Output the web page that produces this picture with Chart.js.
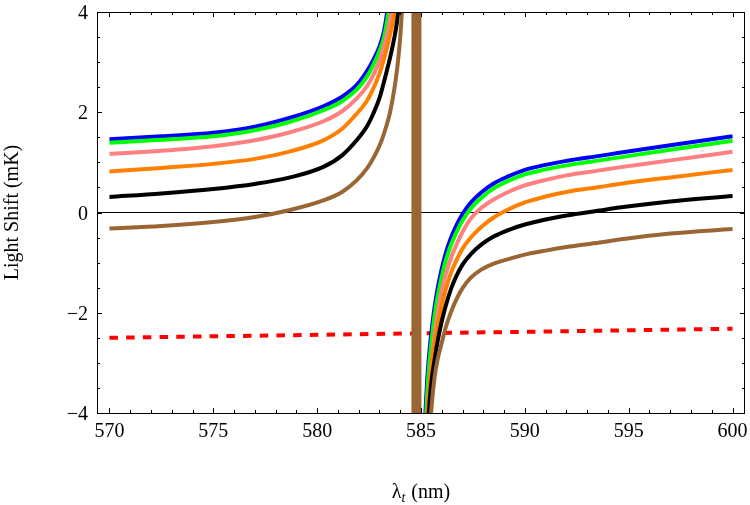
<!DOCTYPE html>
<html>
<head>
<meta charset="utf-8">
<script src="https://cdn.jsdelivr.net/npm/chart.js@4.4.0/dist/chart.umd.min.js"></script>
<style>
  html, body { margin: 0; padding: 0; background: #fff; }
  #wrap { width: 750px; height: 505px; position: relative; }
</style>
</head>
<body>
<div id="wrap"><canvas id="shiftChart"></canvas></div>
<script>
// wavelength grid (nm), left and right of the resonance
const lambdaLeft = [570, 572.5, 575, 577, 578.7, 580.3, 581.2, 581.9, 582.4, 582.7, 583.0, 583.2, 583.35, 583.5, 583.65, 583.8, 583.9, 584.0, 584.1, 584.2];
const lambdaRight = [585.2, 585.3, 585.4, 585.5, 585.65, 585.8, 586.0, 586.2, 586.45, 586.7, 587.0, 587.4, 587.9, 588.5, 589.2, 590, 591, 592, 593.6, 594.55, 597, 600];

// light shift (mK)
const blueLeft   = [1.46, 1.52, 1.59, 1.71, 1.89, 2.12, 2.31, 2.54, 2.82, 3.04, 3.31, 3.58, 3.94, 4.45, null, null, null, null, null, null];
const greenLeft  = [1.39, 1.45, 1.52, 1.64, 1.81, 2.04, 2.22, 2.45, 2.71, 2.94, 3.22, 3.47, 3.78, 4.2, null, null, null, null, null, null];
const pinkLeft   = [1.17, 1.23, 1.32, 1.44, 1.60, 1.82, 2.02, 2.27, 2.52, 2.74, 3.03, 3.30, 3.53, 3.82, 4.3, null, null, null, null, null];
const orangeLeft = [0.82, 0.89, 0.97, 1.07, 1.22, 1.44, 1.67, 1.97, 2.23, 2.47, 2.77, 3.04, 3.27, 3.53, 3.8, 4.15, null, null, null, null];
const blackLeft  = [0.31, 0.38, 0.47, 0.57, 0.70, 0.91, 1.14, 1.44, 1.72, 1.97, 2.28, 2.58, 2.82, 3.07, 3.35, 3.68, 3.98, 4.35, null, null];
const brownLeft  = [-0.32, -0.27, -0.19, -0.09, 0.05, 0.24, 0.41, 0.64, 0.88, 1.08, 1.33, 1.55, 1.75, 1.98, 2.3, 2.7, 3.05, 3.5, 4.15, 4.9];

const blueRight   = [-4.1, -3.33, -2.8, -2.4, -1.9, -1.52, -1.12, -0.8, -0.5, -0.26, -0.03, 0.2, 0.4, 0.58, 0.72, 0.85, 0.95, 1.03, 1.13, 1.19, 1.34, 1.52];
const greenRight  = [-4.45, -3.6, -3.02, -2.6, -2.07, -1.68, -1.28, -0.95, -0.64, -0.4, -0.16, 0.08, 0.29, 0.48, 0.63, 0.76, 0.86, 0.94, 1.04, 1.10, 1.25, 1.43];
const pinkRight   = [-5.1, -4.24, -3.58, -3.06, -2.46, -2.01, -1.56, -1.22, -0.90, -0.65, -0.39, -0.12, 0.09, 0.26, 0.41, 0.54, 0.65, 0.74, 0.84, 0.90, 1.04, 1.21];
const orangeRight = [-4.75, -4.05, -3.5, -3.08, -2.6, -2.25, -1.85, -1.52, -1.2, -0.96, -0.72, -0.5, -0.29, -0.1, 0.06, 0.2, 0.32, 0.41, 0.51, 0.57, 0.7, 0.85];
const blackRight  = [-5.4, -4.5, -3.85, -3.38, -2.95, -2.57, -2.17, -1.85, -1.52, -1.27, -1.04, -0.83, -0.64, -0.48, -0.35, -0.24, -0.14, -0.06, 0.04, 0.1, 0.22, 0.33];
const brownRight  = [null, null, -4.6, -3.92, -3.3, -2.93, -2.6, -2.28, -1.98, -1.74, -1.51, -1.3, -1.14, -1.02, -0.93, -0.84, -0.76, -0.69, -0.6, -0.54, -0.42, -0.33];

// dashed red reference line
const redLambda = [570, 585, 600];
const redValues = [-2.50, -2.41, -2.32];

// brown resonance band
const bandLambda = [584.78, 584.78];
const bandValues = [-4, 4];

const xTicks = [570, 575, 580, 585, 590, 595, 600];
const yTicks = [-4, -2, 0, 2, 4];

const serif = '"Liberation Serif", "Times New Roman", serif';

function branches(left, right) {
    const pts = lambdaLeft.map((l, i) => ({ x: l, y: left[i] }));
    pts.push({ x: 584.78, y: null });
    lambdaRight.forEach((l, i) => pts.push({ x: l, y: right[i] }));
    return pts;
}

function pairs(xs, ys) {
    return xs.map((v, i) => ({ x: v, y: ys[i] }));
}

function curve(label, data, color, order) {
    return {
        label: label,
        data: data,
        borderColor: color,
        borderWidth: 4,
        pointRadius: 0,
        cubicInterpolationMode: 'monotone',
        clip: 0,
        order: order
    };
}

function noPadding(scale) {
    scale.paddingTop = 0;
    scale.paddingBottom = 0;
    scale.paddingLeft = 0;
    scale.paddingRight = 0;
}

function fmt(v) {
    return v < 0 ? '\u2212' + Math.abs(v) : String(v);
}

// frame, inward ticks, tick labels and axis titles (Mathematica style)
const framePlugin = {
    id: 'frame',
    afterDraw(chart) {
        const { ctx, chartArea: a, scales: { x, y } } = chart;
        ctx.save();
        ctx.strokeStyle = '#000';
        ctx.lineWidth = 1;
        ctx.strokeRect(a.left + 0.5, a.top + 0.5, a.right - a.left - 1, a.bottom - a.top);

        ctx.beginPath();
        for (let v = 570; v <= 600; v++) {
            const px = Math.round(x.getPixelForValue(v)) + 0.5;
            const len = v % 5 === 0 ? 5 : 3;
            ctx.moveTo(px, a.bottom); ctx.lineTo(px, a.bottom - len);
            ctx.moveTo(px, a.top); ctx.lineTo(px, a.top + len);
        }
        for (let i = -8; i <= 8; i++) {
            const py = Math.round(y.getPixelForValue(i / 2)) + 0.5;
            const len = i % 4 === 0 ? 5 : 3;
            ctx.moveTo(a.left, py); ctx.lineTo(a.left + len, py);
            ctx.moveTo(a.right, py); ctx.lineTo(a.right - len, py);
        }
        ctx.stroke();

        ctx.fillStyle = '#000';
        ctx.font = '20px ' + serif;
        ctx.textBaseline = 'alphabetic';

        // tick labels
        ctx.textAlign = 'center';
        xTicks.forEach(v => ctx.fillText(fmt(v), x.getPixelForValue(v), 437));
        ctx.textAlign = 'right';
        yTicks.forEach(v => ctx.fillText(fmt(v), a.left - 9, y.getPixelForValue(v) + 7));

        // y title
        ctx.save();
        ctx.translate(13, (a.top + a.bottom) / 2);
        ctx.rotate(-Math.PI / 2);
        ctx.textAlign = 'center';
        ctx.textBaseline = 'middle';
        ctx.fillText('Light Shift (mK)', 0, 0);
        ctx.restore();

        // x title: lambda with subscript t
        const big = '20px ' + serif;
        const sub = 'italic 14px ' + serif;
        ctx.textAlign = 'left';
        ctx.font = big;
        const w1 = ctx.measureText('λ').width;
        const w3 = ctx.measureText(' (nm)').width;
        ctx.font = sub;
        const w2 = ctx.measureText('t').width + 1;
        const cx = (a.left + a.right) / 2 - (w1 + w2 + w3) / 2;
        ctx.font = big;
        ctx.fillText('λ', cx, 498);
        ctx.font = sub;
        ctx.fillText('t', cx + w1, 502);
        ctx.font = big;
        ctx.fillText(' (nm)', cx + w1 + w2, 498);
        ctx.restore();
    }
};

new Chart(document.getElementById('shiftChart'), {
    type: 'line',
    data: {
        datasets: [
            {
                label: 'band',
                data: pairs(bandLambda, bandValues),
                borderColor: '#996633',
                borderWidth: 10,
                pointRadius: 0,
                clip: 0,
                order: 0
            },
            curve('brown', branches(brownLeft, brownRight), '#996633', 1),
            curve('black', branches(blackLeft, blackRight), '#000000', 2),
            curve('orange', branches(orangeLeft, orangeRight), '#ff8000', 3),
            curve('pink', branches(pinkLeft, pinkRight), '#ff8080', 4),
            curve('green', branches(greenLeft, greenRight), '#00ff00', 5),
            curve('blue', branches(blueLeft, blueRight), '#0000ff', 6),
            {
                label: 'red',
                data: pairs(redLambda, redValues),
                borderColor: '#ff0000',
                borderWidth: 4,
                borderDash: [8.5, 8.2],
                pointRadius: 0,
                clip: 0,
                order: 7
            }
        ]
    },
    options: {
        responsive: true,
        maintainAspectRatio: false,
        animation: false,
        layout: { padding: { top: 12, right: 5, left: 0, bottom: 0 } },
        plugins: {
            legend: { display: false },
            tooltip: { enabled: false }
        },
        scales: {
            x: {
                type: 'linear',
                min: 569.4,
                max: 600.6,
                afterBuildTicks: scale => { scale.ticks = xTicks.map(v => ({ value: v })); },
                afterFit: scale => { scale.height = 92; noPadding(scale); },
                grid: { display: false },
                border: { display: false },
                ticks: { display: false }
            },
            y: {
                min: -4,
                max: 4,
                afterBuildTicks: scale => { scale.ticks = yTicks.map(v => ({ value: v })); },
                afterFit: scale => { scale.width = 97; noPadding(scale); },
                grid: {
                    drawTicks: false,
                    color: ctx => (ctx.tick && ctx.tick.value === 0) ? '#000' : 'rgba(0,0,0,0)',
                    lineWidth: 1
                },
                border: { display: false },
                ticks: { display: false }
            }
        }
    },
    plugins: [framePlugin]
});
</script>
</body>
</html>
